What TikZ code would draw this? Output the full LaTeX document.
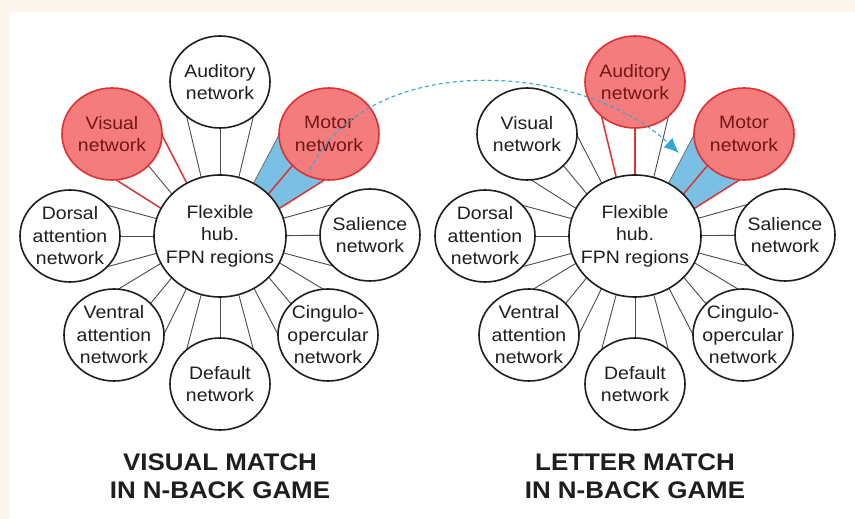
\documentclass[tikz,border=0pt]{standalone}
\usepackage{fontspec}
\setmainfont[FakeStretch=1.08]{Liberation Sans}
\usetikzlibrary{shapes.geometric,calc,arrows.meta}
\definecolor{beige}{RGB}{253,246,236}
\definecolor{redF}{RGB}{244,124,124}
\definecolor{redB}{RGB}{222,50,50}
\definecolor{redT}{RGB}{115,22,22}
\definecolor{blueF}{RGB}{122,192,228}
\definecolor{dashC}{RGB}{52,166,212}
\definecolor{ink}{RGB}{30,30,30}
\pgfdeclarelayer{back0}\pgfdeclarelayer{back1}
\pgfsetlayers{back0,back1,main}
% #1 satellite, #2 hub, #3 side (1,0,-1), #4 style
\newcommand\spk[4]{\draw[#4] let \p1=($(#1)-(#2)$), \n1={atan2(\y1,\x1)} in
  ($(#1)+({\n1+180-(#3)*42}:50 and 46)$) -- ($(#2)+({\n1+(#3)*16.5}:66 and 61)$);}
\newcommand\wedgefill[2]{\fill[blueF] let \p1=($(#1)-(#2)$), \n1={atan2(\y1,\x1)} in
  ($(#1)+({\n1+138}:50 and 46)$) -- ($(#2)+({\n1+16.5}:66 and 61)$) --
  ($(#2)+({\n1-16.5}:66 and 61)$) -- ($(#1)+({\n1+222}:50 and 46)$) -- cycle;}
\tikzset{
  sat/.style={ellipse, minimum width=100pt, minimum height=92pt, inner sep=0pt, draw=ink, line width=1.6pt, fill=white},
  redsat/.style={sat, draw=redB, fill=redF},
  hubst/.style={ellipse, minimum width=132pt, minimum height=122pt, inner sep=0pt, draw=ink, line width=1.6pt, fill=white},
  lbl/.style={align=center, font=\fontsize{18}{22.5}\selectfont, text=ink, inner sep=0pt},
  redlbl/.style={lbl, text=redT},
  spoke/.style={draw=black!70, line width=0.9pt},
  redspoke/.style={draw=redB, line width=1.5pt},
  edgespoke/.style={draw=black!60, line width=0.7pt},
  titlest/.style={align=center, font=\bfseries\fontsize{24}{28}\selectfont, text=ink, inner sep=0pt},
  dasharrow/.style={draw=dashC, line width=1.1pt, dash pattern=on 4pt off 3pt, -{Latex[length=15pt,width=13pt]}}
}
\begin{document}
\begin{tikzpicture}[x=1pt,y=1pt]
\useasboundingbox (0,0) rectangle (855,519);
\begin{pgfonlayer}{back0}
\fill[beige] (0,0) rectangle (855,519);
\fill[white] (10,0) rectangle (855,507);
\end{pgfonlayer}
% ---------- left panel ----------
\node[hubst] (hL) at (220,283) {};
\node[sat] (audL) at (220,437) {};
\node[redsat] (visL) at (112,385) {};
\node[redsat] (motL) at (329,385) {};
\node[sat] (dorL) at (70,283) {};
\node[sat] (salL) at (370,284) {};
\node[sat] (venL) at (114,184) {};
\node[sat] (cinL) at (328,184) {};
\node[sat] (defL) at (220,135) {};
\node[lbl] at (hL) {Flexible\\hub.\\FPN regions};
\node[lbl] at (audL) {Auditory\\network};
\node[redlbl] at (visL) {Visual\\network};
\node[redlbl] at (motL) {Motor\\network};
\node[lbl] at (dorL) {Dorsal\\attention\\network};
\node[lbl] at (salL) {Salience\\network};
\node[lbl] at (venL) {Ventral\\attention\\network};
\node[lbl] at (cinL) {Cingulo-\\opercular\\network};
\node[lbl] at (defL) {Default\\network};
% ---------- right panel ----------
\node[hubst] (hR) at (635,283) {};
\node[redsat] (audR) at (635,437) {};
\node[sat] (visR) at (527,385) {};
\node[redsat] (motR) at (744,385) {};
\node[sat] (dorR) at (485,283) {};
\node[sat] (salR) at (785,284) {};
\node[sat] (venR) at (529,184) {};
\node[sat] (cinR) at (743,184) {};
\node[sat] (defR) at (635,135) {};
\node[lbl] at (hR) {Flexible\\hub.\\FPN regions};
\node[redlbl] at (audR) {Auditory\\network};
\node[lbl] at (visR) {Visual\\network};
\node[redlbl] at (motR) {Motor\\network};
\node[lbl] at (dorR) {Dorsal\\attention\\network};
\node[lbl] at (salR) {Salience\\network};
\node[lbl] at (venR) {Ventral\\attention\\network};
\node[lbl] at (cinR) {Cingulo-\\opercular\\network};
\node[lbl] at (defR) {Default\\network};
% ---------- spokes ----------
\begin{pgfonlayer}{back1}
\wedgefill{motL}{hL}
\wedgefill{motR}{hR}
\foreach \s in {audL,dorL,salL,venL,cinL,defL}{
  \spk{\s}{hL}{1}{spoke}
  \spk{\s}{hL}{0}{spoke}
  \spk{\s}{hL}{-1}{spoke}
}
\foreach \s in {visR,dorR,salR,venR,cinR,defR}{
  \spk{\s}{hR}{1}{spoke}
  \spk{\s}{hR}{0}{spoke}
  \spk{\s}{hR}{-1}{spoke}
}
% left visual: outer red, middle dark
\spk{visL}{hL}{1}{redspoke}
\spk{visL}{hL}{0}{spoke}
\spk{visL}{hL}{-1}{redspoke}
% motor (both panels): upper edge dark, middle and lower red
\spk{motL}{hL}{1}{edgespoke}
\spk{motL}{hL}{0}{redspoke}
\spk{motL}{hL}{-1}{redspoke}
\spk{motR}{hR}{1}{edgespoke}
\spk{motR}{hR}{0}{redspoke}
\spk{motR}{hR}{-1}{redspoke}
% right auditory: left and middle red, right dark
\spk{audR}{hR}{1}{redspoke}
\spk{audR}{hR}{0}{redspoke}
\spk{audR}{hR}{-1}{spoke}
\end{pgfonlayer}
% ---------- titles ----------
\node[titlest] (tL) at (220,43) {VISUAL MATCH\\IN N-BACK GAME};
\node[titlest] (tR) at (635,43) {LETTER MATCH\\IN N-BACK GAME};
% ---------- dashed arrow ----------
\coordinate (aS) at (310,349);
\coordinate (aE) at (679,366);
\draw[dasharrow] (aS) .. controls (368,470) and (580,458) .. (aE);
\end{tikzpicture}
\end{document}
